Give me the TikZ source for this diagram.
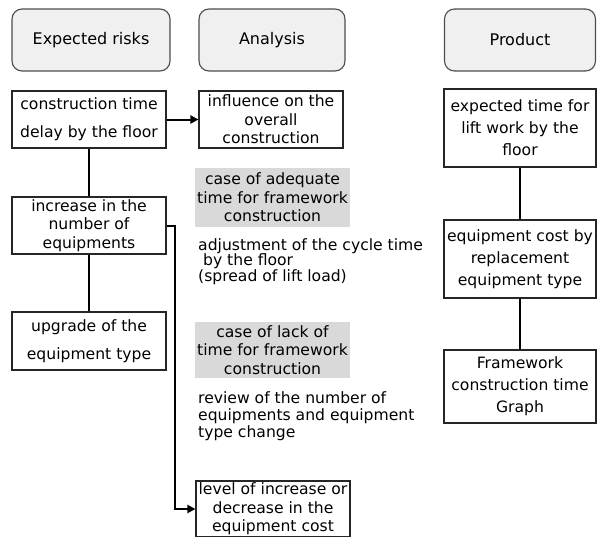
\documentclass[tikz,border=0pt]{standalone}
\usepackage{fontspec}
\setmainfont{DejaVu Sans}
\usetikzlibrary{arrows.meta}
\tikzset{
  header/.style={draw=black!70, fill=black!6, rounded corners=10pt, line width=1.1pt,
    inner sep=0pt, font=\fontsize{16}{20}\selectfont},
  itembox/.style={draw=black!85, fill=white, line width=1.1pt, inner sep=0pt, align=center,
    font=\fontsize{15.6}{18.5}\selectfont},
  graybox/.style={fill=black!15, inner sep=0pt, align=center,
    font=\fontsize{15.6}{18.5}\selectfont},
  plain/.style={inner sep=0pt, align=left, anchor=north west},
  link/.style={line width=2pt, black},
  arrowlink/.style={link, -{Triangle[length=8pt,width=8pt]}},
}
\begin{document}
\begin{tikzpicture}[x=1pt, y=-1pt]
\useasboundingbox (0,0) rectangle (597,536);
\clip (0,0) rectangle (597,536);

% column headers
\node[header, minimum width=158, minimum height=62] (hrisk) at (91,40) {Expected risks};
\node[header, minimum width=146, minimum height=62] (hana) at (272,40) {Analysis};
\node[header, minimum width=151, minimum height=62] (hprod) at (520,40) {Product};

% expected risks
\node[itembox, minimum width=154, minimum height=57, font=\fontsize{15.6}{28}\selectfont] (delay) at (89,119.5)
  {construction time\\delay by the floor};
\node[itembox, minimum width=154, minimum height=57] (increase) at (89,225.5)
  {increase in the\\number of\\equipments};
\node[itembox, minimum width=154, minimum height=58, font=\fontsize{15.6}{28}\selectfont] (upgrade) at (89,341)
  {upgrade of the\\equipment type};

% analysis
\node[itembox, minimum width=144, minimum height=57] (influence) at (271,119.5)
  {influence on the\\overall\\construction};
\node[graybox, minimum width=155, minimum height=59] (adequate) at (272.5,197.5)
  {case of adequate\\time for framework\\construction};
\node[plain, font=\fontsize{15.6}{15.5}\selectfont] (adjust) at (198,238)
  {adjustment of the cycle time\\\ by the floor\\(spread of lift load)};
\node[graybox, minimum width=155, minimum height=56] (lack) at (272.5,350)
  {case of lack of\\time for framework\\construction};
\node[plain, font=\fontsize{15.6}{17}\selectfont] (review) at (198,391.5)
  {review of the number of\\equipments and equipment\\type change};
\node[itembox, minimum width=154, minimum height=56] (level) at (273,509)
  {level of increase or\\decrease in the\\equipment cost};

% product
\node[itembox, minimum width=152, minimum height=78, font=\fontsize{15.6}{22}\selectfont] (lifttime) at (520,128)
  {expected time for\\lift work by the\\floor};
\node[itembox, minimum width=152, minimum height=78, font=\fontsize{15.6}{22}\selectfont] (equipcost) at (520,259)
  {equipment cost by\\replacement\\equipment type};
\node[itembox, minimum width=152, minimum height=73, font=\fontsize{15.6}{22}\selectfont] (graph) at (520,386.5)
  {Framework\\construction time\\Graph};

% connectors
\draw[arrowlink] (delay.east) -- (influence.west);
\draw[link] (delay.south) -- (increase.north);
\draw[link] (increase.south) -- (upgrade.north);
\draw[arrowlink] (increase.east) -| (175,509) -- (level.west);
\draw[link] (lifttime.south) -- (equipcost.north);
\draw[link] (equipcost.south) -- (graph.north);
\end{tikzpicture}
\end{document}
